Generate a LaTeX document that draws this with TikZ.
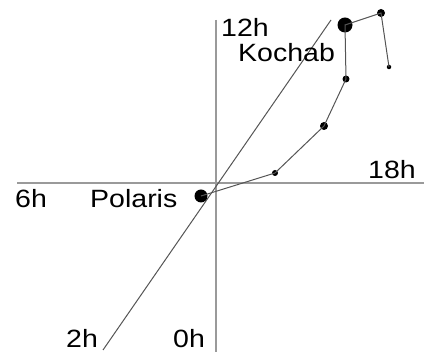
\documentclass[tikz,border=0pt]{standalone}
\usepackage{fontspec}
\setmainfont{Liberation Sans}
\usepackage{tikz}
\usetikzlibrary{positioning}
\usepackage{xcolor}
\definecolor{axisgray}{HTML}{9a9a9a}
\definecolor{linegray}{HTML}{555555}

\tikzset{
  star/.style={circle,fill=black,inner sep=0pt,minimum size=#1},
  lbl/.style={font=\fontsize{25}{28}\selectfont,inner sep=0pt,anchor=base west,xscale=1.14}
}

\begin{document}
\begin{tikzpicture}[x=1pt,y=-1pt]
  \useasboundingbox (0,0) rectangle (424,352);
  % axes
  \coordinate (top) at (216,20);
  \coordinate (bot) at (216,352);
  \coordinate (left) at (17,183);
  \coordinate (right) at (424,183);
  \coordinate (diagtop) at (331,20);
  \coordinate (diagbot) at (103,350);
  \draw[axisgray,line width=1.6pt] (top) -- (bot);
  \draw[axisgray,line width=1.6pt] (left) -- (right);
  \draw[linegray,line width=1pt] (diagbot) -- (diagtop);
  % stars
  \node[star=13pt] (polaris) at (201,196) {};
  \node[star=6pt] (s1) at (275,173) {};
  \node[star=8pt] (s2) at (324,126) {};
  \node[star=7pt] (s3) at (346,79) {};
  \node[star=15pt] (kochab) at (345,25) {};
  \node[star=8pt] (s4) at (381,13) {};
  \node[star=4.5pt] (s5) at (389,67) {};
  \draw[linegray,line width=1pt] (polaris.center) -- (s1.center) -- (s2.center)
    -- (s3.center) -- (kochab.center) -- (s4.center) -- (s5.center);
  % labels
  \node[lbl] (l12) at (221,37) {12h};
  \node[lbl] (lkochab) at (238,62) {Kochab};
  \node[lbl] (l18) at (368,179) {18h};
  \node[lbl] (l6) at (15,208) {6h};
  \node[lbl] (lpolaris) at (90,208) {Polaris};
  \node[lbl] (l2) at (66,348) {2h};
  \node[lbl] (l0) at (173,348) {0h};
\end{tikzpicture}
\end{document}
